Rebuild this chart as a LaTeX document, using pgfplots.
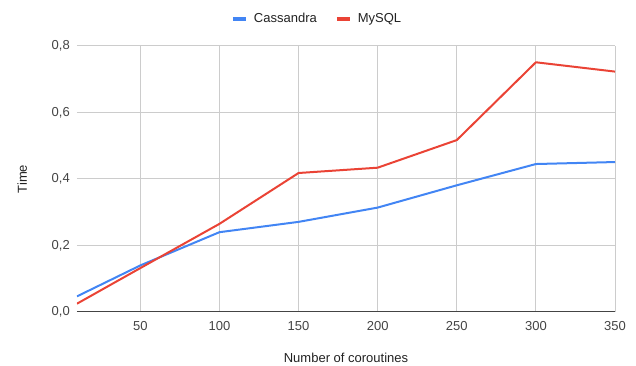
\documentclass[border=0pt]{standalone}
\usepackage{pgfplots}
\pgfplotsset{compat=1.18}
\usepackage{fontspec}
\setmainfont{Liberation Sans}
\definecolor{cblue}{HTML}{4285F4}
\definecolor{cred}{HTML}{EA4335}
\definecolor{tickc}{HTML}{444444}
\definecolor{labc}{HTML}{222222}
\definecolor{gridc}{HTML}{CCCCCC}
\begin{document}
\fontsize{13}{15}\selectfont
\begin{tikzpicture}
\begin{axis}[
  scale only axis,
  width=538pt, height=266pt,
  xmin=10, xmax=350, ymin=0, ymax=0.8,
  xtick={50,100,150,200,250,300,350},
  ytick={0,0.2,0.4,0.6,0.8},
  major tick length=0pt,
  axis line style={draw=none},
  grid=major,
  major grid style={gridc, line width=1pt},
  /pgf/number format/assume math mode=true,
  y tick label style={/pgf/number format/fixed, /pgf/number format/fixed zerofill, /pgf/number format/precision=1, /pgf/number format/use comma},
  scaled y ticks=false,
  ticklabel style={font=\fontsize{13}{15}\selectfont, text=tickc},
  y tick label style={anchor=east, inner sep=0pt, xshift=-7pt},
  x tick label style={anchor=center, inner sep=0pt, yshift=-14pt},
  xlabel={Number of coroutines},
  ylabel={Time},
  label style={font=\fontsize{13}{15}\selectfont, text=labc},
  xlabel style={at={(axis description cs:0.5,-0.173)}, anchor=center},
  ylabel style={at={(axis description cs:-0.102,0.5)}, anchor=center},
  legend style={at={(axis description cs:0.45,1.102)}, anchor=center, draw=none, fill=none,
    legend columns=2, font=\fontsize{13}{15}\selectfont, text=labc,
    nodes={inner xsep=6pt},
    /tikz/every even column/.append style={column sep=12pt}},
  legend image code/.code={\draw[line width=4pt] (0pt,0pt) -- (13pt,0pt);},
  every axis plot/.append style={line width=2pt, line join=round},
]
\addplot[cblue] coordinates {(10,0.047) (50,0.140) (100,0.240) (150,0.271) (200,0.314) (250,0.381) (300,0.445) (350,0.451)};
\addlegendentry{Cassandra}
\addplot[cred] coordinates {(10,0.025) (50,0.132) (100,0.265) (150,0.418) (200,0.434) (250,0.517) (300,0.751) (350,0.723)};
\addlegendentry{MySQL}
\draw[color=tickc, line width=1.2pt] (rel axis cs:0,0) -- (rel axis cs:1,0);
\coordinate (bl) at (rel axis cs:0,0);
\coordinate (tr) at (rel axis cs:1,1);
\end{axis}
\pgfresetboundingbox
\useasboundingbox ([shift={(-77pt,-54pt)}]bl) rectangle ([shift={(21pt,46pt)}]tr);
\end{tikzpicture}
\end{document}
